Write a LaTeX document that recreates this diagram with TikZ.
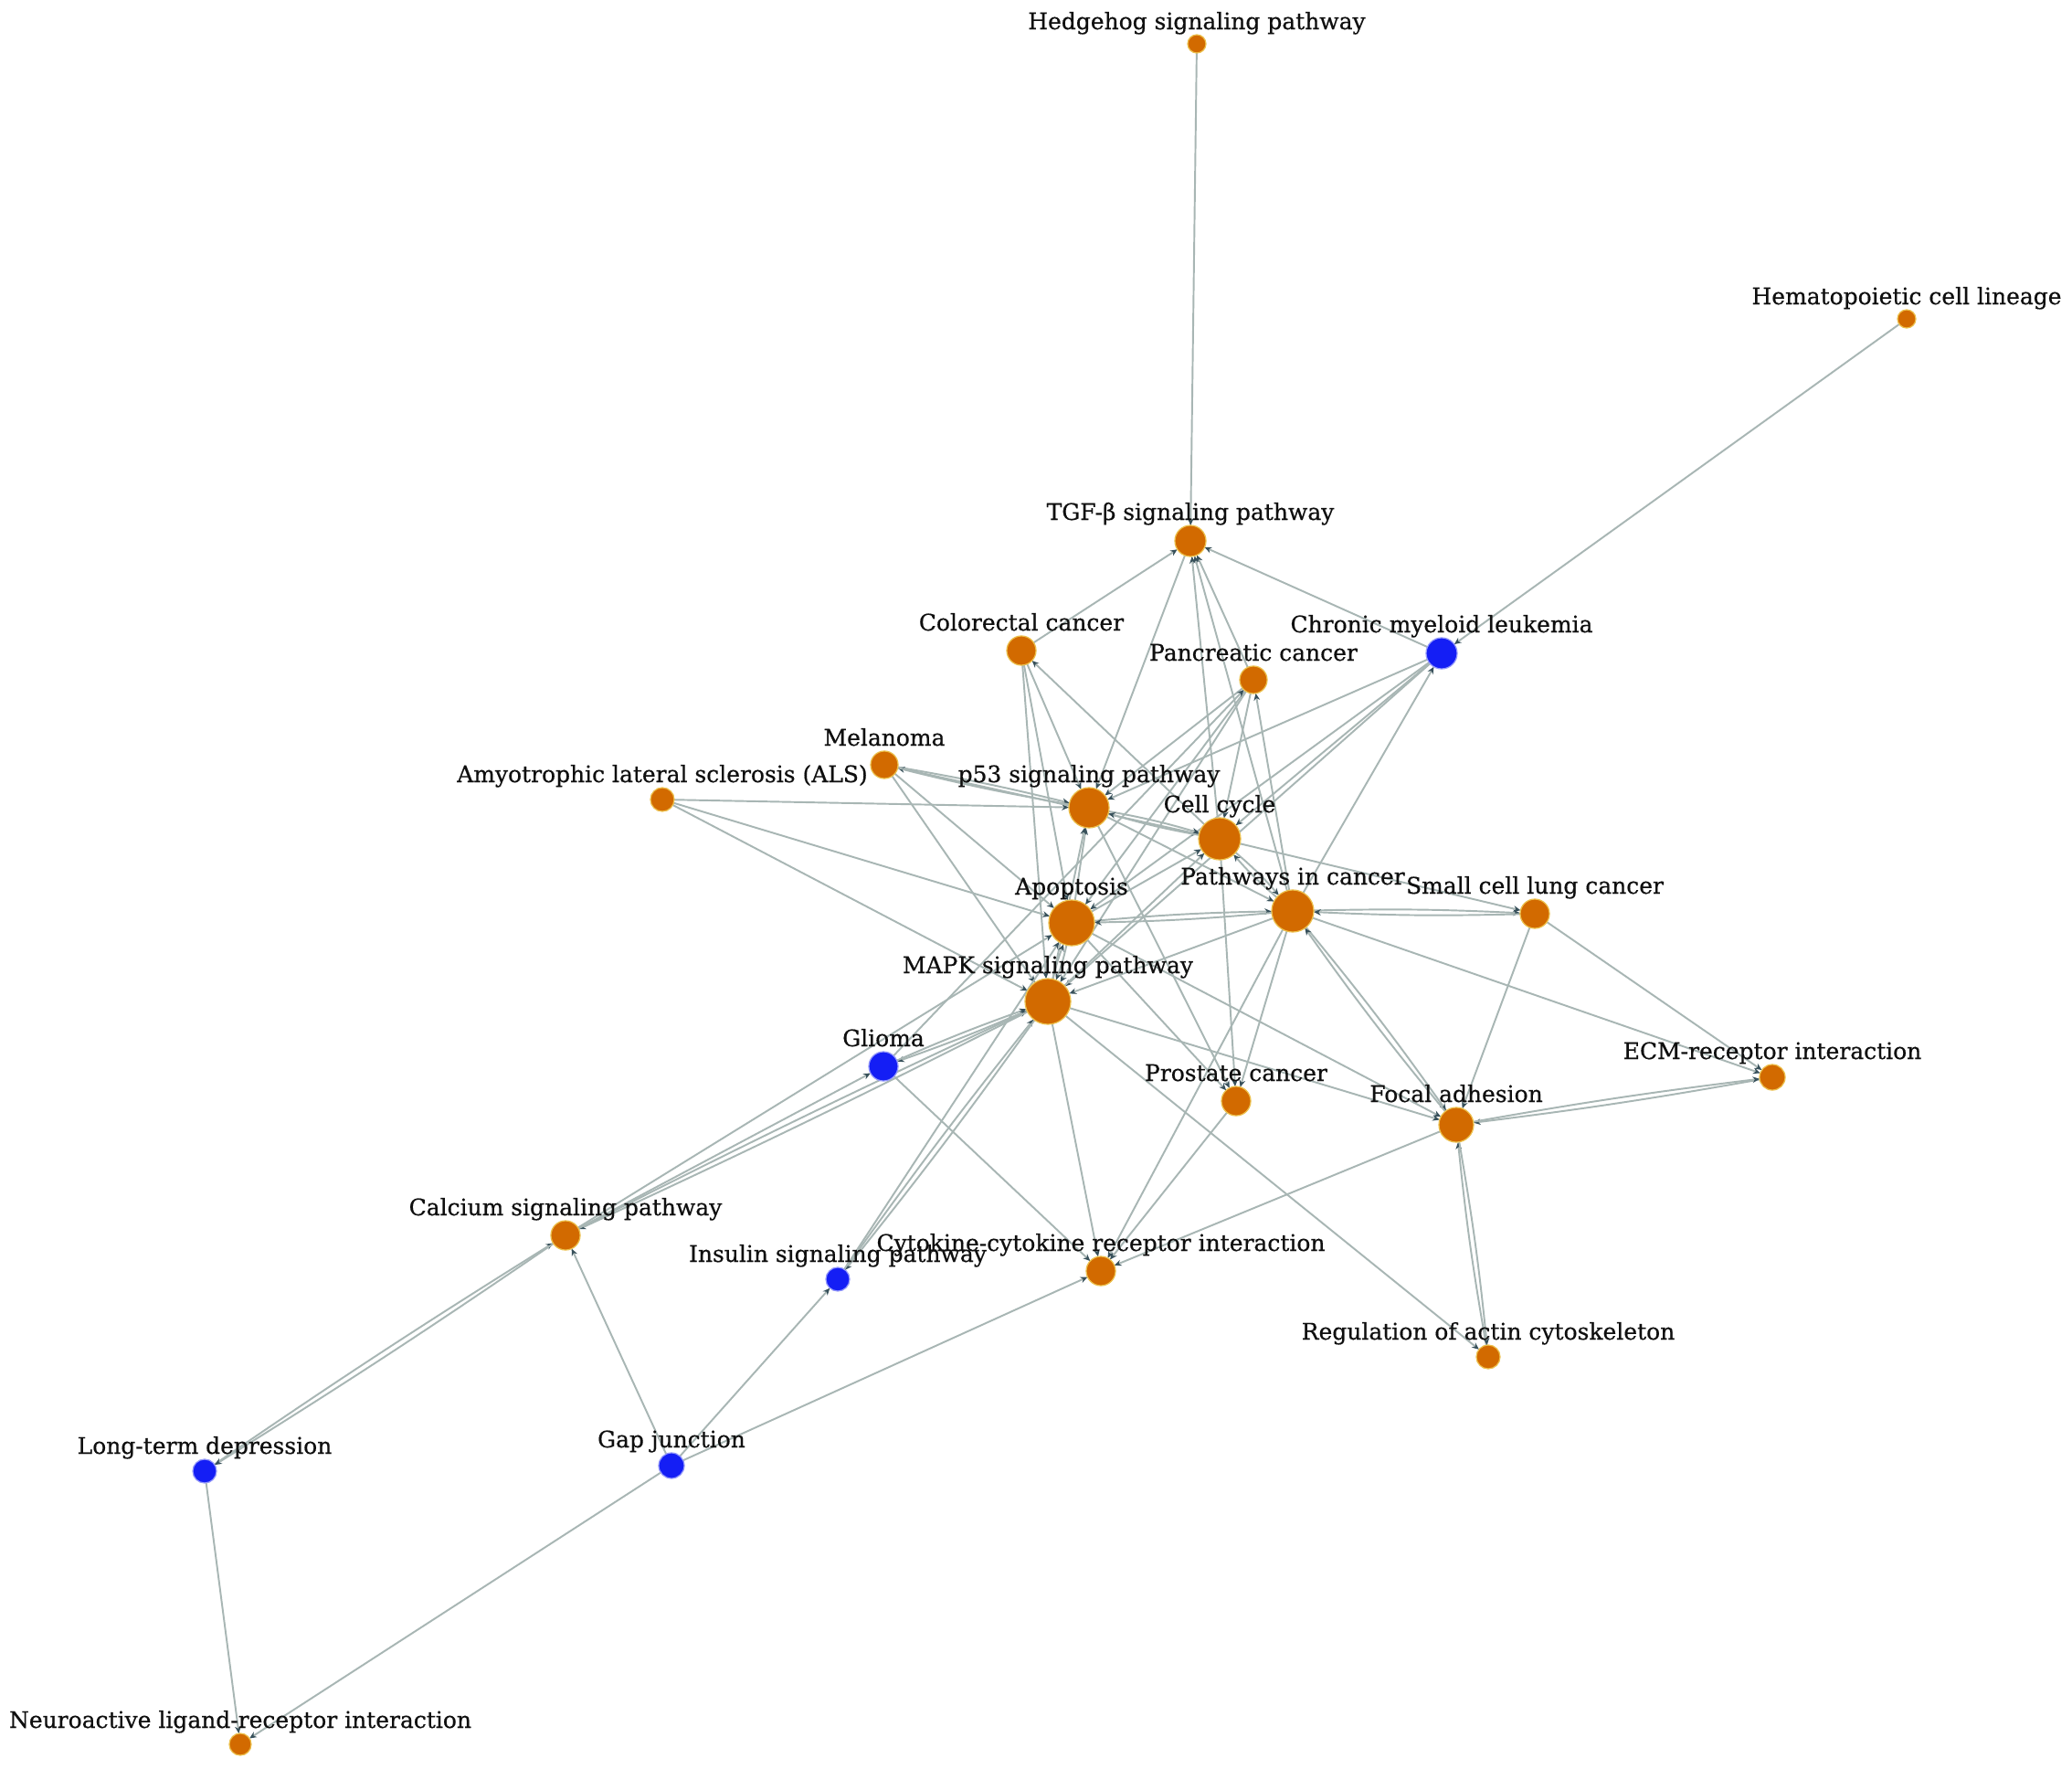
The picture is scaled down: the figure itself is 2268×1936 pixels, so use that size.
\documentclass[tikz,border=0pt]{standalone}
\usepackage{fontspec}
\setmainfont{DejaVu Serif}[FakeBold=0.5]
\usetikzlibrary{arrows.meta}
\pgfdeclarelayer{bg}
\pgfsetlayers{bg,main}
\definecolor{nodeor}{RGB}{210,106,0}
\definecolor{nodebl}{RGB}{20,30,245}
\definecolor{edgecol}{RGB}{168,182,180}
\definecolor{arrcol}{RGB}{55,80,90}
\definecolor{txtcol}{RGB}{15,15,15}
\tikzset{
  gn/.style={circle, inner sep=0pt, outer sep=0pt, line width=0.35pt},
  orn/.style={gn, fill=nodeor, draw=nodeor!60!yellow!70!white},
  bln/.style={gn, fill=nodebl, draw=nodebl!45!white},
  lbl/.style={font=\fontsize{7.1}{8}\selectfont, text=txtcol, inner sep=0pt, anchor=base},
  ed/.style={draw=edgecol, line width=0.55pt, -{Stealth[length=2.2pt,width=1.9pt,color=arrcol]}},
  dbl/.style={ed, bend left=#1},
  dbl/.default=2
}
\newcommand\gnode[6]{%
  \node[#5, minimum size=#4*0.02cm] (#1) at (#2,#3) {};
  \node[lbl] (#1-lab) at (#2,#3-#4-6) {#6};}
\begin{document}
\begin{tikzpicture}[x=0.01cm,y=-0.01cm]
\useasboundingbox (0,0) rectangle (2268,1936);
% nodes
\gnode{hedge}{1310}{48}{10}{orn}{Hedgehog signaling pathway}
\gnode{hema}{2087}{349}{10}{orn}{Hematopoietic cell lineage}
\gnode{tgf}{1303}{592}{17}{orn}{TGF-β signaling pathway}
\gnode{colo}{1118}{712}{16}{orn}{Colorectal cancer}
\gnode{cml}{1578}{715}{17}{bln}{Chronic myeloid leukemia}
\gnode{pan}{1372}{744}{15}{orn}{Pancreatic cancer}
\gnode{mel}{968}{837}{15}{orn}{Melanoma}
\gnode{als}{725}{875}{13}{orn}{Amyotrophic lateral sclerosis (ALS)}
\gnode{p53}{1192}{884}{22}{orn}{p53 signaling pathway}
\gnode{cc}{1335}{918}{23}{orn}{Cell cycle}
\gnode{apo}{1173}{1010}{25}{orn}{Apoptosis}
\gnode{path}{1415}{997}{23}{orn}{Pathways in cancer}
\gnode{sclc}{1680}{1000}{16}{orn}{Small cell lung cancer}
\gnode{mapk}{1147}{1096}{25}{orn}{MAPK signaling pathway}
\gnode{glioma}{967}{1167}{16}{bln}{Glioma}
\gnode{pros}{1353}{1205}{16}{orn}{Prostate cancer}
\gnode{ecm}{1940}{1179}{14}{orn}{ECM-receptor interaction}
\gnode{focal}{1594}{1231}{19}{orn}{Focal adhesion}
\gnode{calc}{619}{1352}{16}{orn}{Calcium signaling pathway}
\gnode{ins}{917}{1400}{13}{bln}{Insulin signaling pathway}
\gnode{cyto}{1205}{1391}{16}{orn}{Cytokine-cytokine receptor interaction}
\gnode{reg}{1629}{1485}{13}{orn}{Regulation of actin cytoskeleton}
\gnode{ltd}{224}{1610}{13}{bln}{Long-term depression}
\gnode{gap}{735}{1604}{14}{bln}{Gap junction}
\gnode{neuro}{263}{1909}{12}{orn}{Neuroactive ligand-receptor interaction}
% edges
\begin{pgfonlayer}{bg}
\fill[white] (0,0) rectangle (2268,1936);
\draw[ed] (hedge) -- (tgf);
\draw[ed] (hema) -- (cml);
\draw[ed] (colo) -- (tgf);
\draw[ed] (cml) -- (tgf);
\draw[ed] (tgf) -- (p53);
\draw[ed] (pan) -- (tgf);
\draw[ed] (cc) -- (tgf);
\draw[ed] (path) -- (tgf);
\draw[ed] (colo) -- (p53);
\draw[ed] (colo) -- (apo);
\draw[ed] (colo) -- (mapk);
\draw[ed] (cc) -- (colo);
\draw[ed] (pan) -- (p53);
\draw[ed] (pan) -- (apo);
\draw[ed] (pan) -- (mapk);
\draw[ed] (pan) -- (cc);
\draw[ed] (path) -- (pan);
\draw[ed] (cml) -- (p53);
\draw[ed] (cml) -- (cc);
\draw[ed] (cml) -- (apo);
\draw[ed] (cml) -- (mapk);
\draw[ed] (path) -- (cml);
\draw[ed] (als) -- (p53);
\draw[ed] (als) -- (apo);
\draw[ed] (als) -- (mapk);
\draw[dbl=2] (mel) to (p53);
\draw[dbl=2] (p53) to (mel);
\draw[ed] (mel) -- (cc);
\draw[ed] (mel) -- (apo);
\draw[ed] (mel) -- (mapk);
\draw[dbl=3] (p53) to (cc);
\draw[dbl=3] (cc) to (p53);
\draw[ed] (apo) -- (p53);
\draw[ed] (mapk) -- (p53);
\draw[ed] (p53) -- (path);
\draw[ed] (p53) -- (pros);
\draw[dbl=4] (cc) to (path);
\draw[dbl=4] (path) to (cc);
\draw[ed] (apo) -- (cc);
\draw[ed] (mapk) -- (cc);
\draw[ed] (cc) -- (sclc);
\draw[ed] (cc) -- (pros);
\draw[dbl=2] (apo) to (path);
\draw[dbl=2] (path) to (apo);
\draw[dbl=4] (apo) to (mapk);
\draw[dbl=4] (mapk) to (apo);
\draw[ed] (path) -- (mapk);
\draw[dbl=2] (path) to (sclc);
\draw[dbl=2] (sclc) to (path);
\draw[ed] (path) -- (ecm);
\draw[dbl=2] (path) to (focal);
\draw[dbl=2] (focal) to (path);
\draw[ed] (path) -- (pros);
\draw[ed] (path) -- (cyto);
\draw[ed] (mapk) -- (focal);
\draw[ed] (apo) -- (focal);
\draw[ed] (mapk) -- (reg);
\draw[ed] (mapk) -- (cyto);
\draw[dbl=2] (mapk) to (glioma);
\draw[dbl=2] (glioma) to (mapk);
\draw[dbl=1] (calc) to (mapk);
\draw[dbl=1] (mapk) to (calc);
\draw[dbl=1.5] (ins) to (mapk);
\draw[dbl=1.5] (mapk) to (ins);
\draw[ed] (ins) -- (apo);
\draw[ed] (calc) -- (apo);
\draw[ed] (calc) -- (glioma);
\draw[ed] (glioma) -- (cyto);
\draw[ed] (glioma) -- (pan);
\draw[ed] (sclc) -- (focal);
\draw[ed] (sclc) -- (ecm);
\draw[dbl=1.5] (ecm) to (focal);
\draw[dbl=1.5] (focal) to (ecm);
\draw[dbl=2] (reg) to (focal);
\draw[dbl=2] (focal) to (reg);
\draw[ed] (focal) -- (cyto);
\draw[ed] (pros) -- (cyto);
\draw[ed] (apo) -- (pros);
\draw[ed] (gap) -- (cyto);
\draw[ed] (gap) -- (ins);
\draw[ed] (gap) -- (calc);
\draw[ed] (gap) -- (neuro);
\draw[dbl=1.2] (ltd) to (calc);
\draw[dbl=1.2] (calc) to (ltd);
\draw[ed] (ltd) -- (neuro);
\end{pgfonlayer}
\end{tikzpicture}
\end{document}
